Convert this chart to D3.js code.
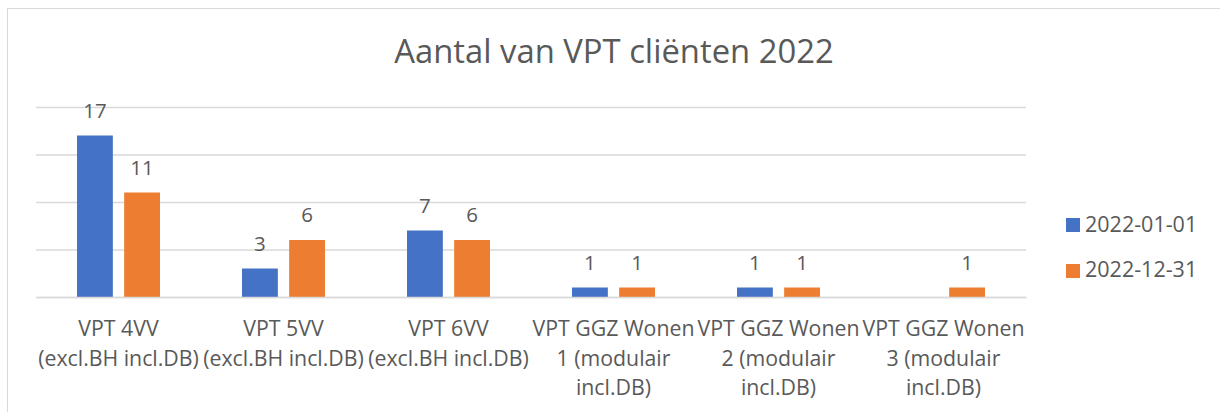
<!DOCTYPE html>
<html>
<head>
<meta charset="utf-8">
<script src="https://cdn.jsdelivr.net/npm/d3@7"></script>
<style>
  body { margin: 0; background: #fff; }
  text { font-family: "Open Sans", sans-serif; fill: #595959; }
</style>
</head>
<body>
<svg id="chart"></svg>
<script>
let width = 1220, height = 412;

// data
let categories = [
    "VPT 4VV\n(excl.BH incl.DB)",
    "VPT 5VV\n(excl.BH incl.DB)",
    "VPT 6VV\n(excl.BH incl.DB)",
    "VPT GGZ Wonen\n1 (modulair\nincl.DB)",
    "VPT GGZ Wonen\n2 (modulair\nincl.DB)",
    "VPT GGZ Wonen\n3 (modulair\nincl.DB)"
];
let seriesNames = ["2022-01-01", "2022-12-31"];
let start2022 = [17, 3, 7, 1, 1, null];
let end2022 = [11, 6, 6, 1, 1, 1];
let yTicks = [0, 5, 10, 15, 20];
let colors = ["#4472c4", "#ed7d31"];

let svg = d3.select("#chart")
    .attr("width", width)
    .attr("height", height);

// outer border
svg.append("rect")
    .attr("x", 7.5).attr("y", 8.5)
    .attr("width", width).attr("height", height)
    .attr("fill", "none")
    .attr("stroke", "#d9d9d9");

let x0 = d3.scaleBand().domain(categories).range([36, 1026]);
let x1 = d3.scaleBand().domain(seriesNames)
    .range([41, 124]).paddingInner(0.24);
let y = d3.scaleLinear().domain([0, 20]).range([297, 107]);

// gridlines
let grid = svg.append("g")
    .attr("transform", "translate(36,0)")
    .call(d3.axisLeft(y).tickValues(yTicks).tickSize(-990).tickFormat(""));
grid.select(".domain").remove();
grid.selectAll("line").attr("stroke", "#d9d9d9").attr("stroke-width", 1.3);

// title
svg.append("text")
    .attr("x", 614).attr("y", 63)
    .attr("text-anchor", "middle")
    .style("font-size", "32.8px")
    .text("Aantal van VPT cliënten 2022");

let rows = categories.map((c, i) => ({cat: c, vals: [start2022[i], end2022[i]]}));

let groups = svg.selectAll(".cat")
    .data(rows)
    .enter().append("g")
    .attr("class", "cat")
    .attr("transform", d => `translate(${x0(d.cat)},0)`);

groups.selectAll("rect")
    .data(d => d.vals.map((v, j) => ({v: v, s: seriesNames[j], j: j})).filter(e => e.v != null))
    .enter().append("rect")
    .attr("x", d => x1(d.s))
    .attr("y", d => y(d.v))
    .attr("width", x1.bandwidth())
    .attr("height", d => y(0) - y(d.v))
    .attr("fill", d => colors[d.j]);

groups.selectAll(".lbl")
    .data(d => d.vals.map((v, j) => ({v: v, s: seriesNames[j]})).filter(e => e.v != null))
    .enter().append("text")
    .attr("class", "lbl")
    .attr("x", d => x1(d.s) + x1.bandwidth() / 2)
    .attr("y", d => y(d.v) - 18)
    .attr("text-anchor", "middle")
    .style("font-size", "20.5px")
    .text(d => d.v);

// x axis
let xAxis = svg.append("g")
    .attr("transform", "translate(0,297)")
    .call(d3.axisBottom(x0).tickSize(0).tickFormat(""));
xAxis.select(".domain").attr("stroke", "#d9d9d9").attr("stroke-width", 1.3);

categories.forEach(c => {
    let t = svg.append("text")
        .attr("text-anchor", "middle")
        .style("font-size", "21.3px");
    c.split("\n").forEach((line, k) => {
        t.append("tspan")
            .attr("x", x0(c) + x0.bandwidth() / 2)
            .attr("y", 336 + k * 29.5)
            .text(line);
    });
});

// legend
let legend = svg.append("g");
seriesNames.forEach((s, j) => {
    legend.append("rect")
        .attr("x", 1066).attr("y", 218 + j * 46)
        .attr("width", 14).attr("height", 14)
        .attr("fill", colors[j]);
    legend.append("text")
        .attr("x", 1085).attr("y", 232 + j * 45)
        .style("font-size", "21.5px")
        .text(s);
});
</script>
</body>
</html>
